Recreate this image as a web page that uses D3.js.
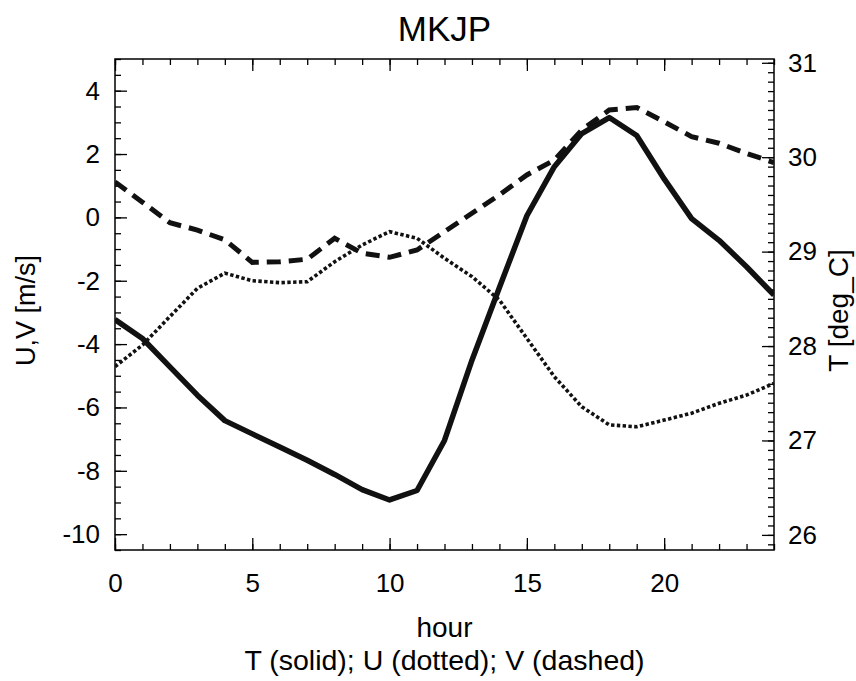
<!DOCTYPE html>
<html>
<head>
<meta charset="utf-8">
<script src="https://cdn.jsdelivr.net/npm/d3@7"></script>
<style>
  body { margin: 0; background: #fff; }
  text { font-family: "Liberation Sans", Arial, sans-serif; fill: #000; }
</style>
</head>
<body>
<div id="chart"></div>
<script>
// hourly values
const hours = [0, 1, 2, 3, 4, 5, 6, 7, 8, 9, 10, 11, 12, 13, 14, 15, 16, 17, 18, 19, 20, 21, 22, 23, 24]
const tempT = [28.28, 28.08, 27.78, 27.48, 27.21, 27.07, 26.93, 26.79, 26.64, 26.48, 26.37, 26.47, 27.00,
  27.85, 28.62, 29.38, 29.90, 30.25, 30.42, 30.23, 29.77, 29.35, 29.12, 28.84, 28.54]
const windU = [-4.71, -4.03, -3.13, -2.24, -1.76, -2.00, -2.06, -2.03, -1.40, -0.87, -0.45, -0.66, -1.29,
  -1.87, -2.61, -3.82, -5.03, -5.98, -6.55, -6.61, -6.40, -6.18, -5.87, -5.61, -5.24]
const windV = [1.12, 0.48, -0.17, -0.40, -0.71, -1.42, -1.40, -1.32, -0.66, -1.13, -1.26, -1.03, -0.45,
  0.13, 0.71, 1.34, 1.81, 2.76, 3.39, 3.47, 3.02, 2.55, 2.34, 2.02, 1.73]

const hourTicks = [0, 5, 10, 15, 20]
const uvTicks = [-10, -8, -6, -4, -2, 0, 2, 4]
const tTicks = [26, 27, 28, 29, 30, 31]

const width = 856
const height = 681
const margin = { left: 115, right: 82, top: 59, bottom: 131 }
const innerW = width - margin.left - margin.right
const innerH = height - margin.top - margin.bottom

const svg = d3.select('#chart').append('svg')
  .attr('width', width)
  .attr('height', height)

const x = d3.scaleLinear().domain([0, 24]).range([0, innerW])
const yUV = d3.scaleLinear().domain([-10.5, 5]).range([innerH, 0])
const yT = d3.scaleLinear().domain([25.84, 31.04]).range([innerH, 0])

const g = svg.append('g').attr('transform', `translate(${margin.left},${margin.top})`)

const noDomain = sel => sel.select('.domain').remove()
const tickStyle = sel => sel.selectAll('line').attr('stroke', '#000').attr('stroke-width', 1.3)
const plain = d => String(d) // hyphen minus, like the original

// bottom axis + mirrored top
g.append('g').attr('transform', `translate(0,${innerH})`)
  .call(d3.axisBottom(x).tickValues(d3.range(0, 25)).tickSize(-6).tickFormat(''))
  .call(noDomain).call(tickStyle)
g.append('g').attr('transform', `translate(0,${innerH})`)
  .call(d3.axisBottom(x).tickValues(hourTicks).tickSize(-12).tickPadding(24).tickFormat(plain))
  .call(noDomain).call(tickStyle)
  .selectAll('text').attr('font-size', 26)
g.append('g')
  .call(d3.axisTop(x).tickValues(d3.range(0, 25)).tickSize(-6).tickFormat(''))
  .call(noDomain).call(tickStyle)
g.append('g')
  .call(d3.axisTop(x).tickValues(hourTicks).tickSize(-12).tickFormat(''))
  .call(noDomain).call(tickStyle)

// left axis (U,V)
g.append('g')
  .call(d3.axisLeft(yUV).tickValues(d3.range(-10.5, 5.01, 0.5)).tickSize(-6).tickFormat(''))
  .call(noDomain).call(tickStyle)
g.append('g')
  .call(d3.axisLeft(yUV).tickValues(uvTicks).tickSize(-12).tickPadding(15).tickFormat(plain))
  .call(noDomain).call(tickStyle)
  .selectAll('text').attr('font-size', 26)

// right axis (T)
g.append('g').attr('transform', `translate(${innerW},0)`)
  .call(d3.axisRight(yT).tickValues(d3.range(259, 311).map(d => d / 10)).tickSize(-6).tickFormat(''))
  .call(noDomain).call(tickStyle)
g.append('g').attr('transform', `translate(${innerW},0)`)
  .call(d3.axisRight(yT).tickValues(tTicks).tickSize(-12).tickPadding(14).tickFormat(plain))
  .call(noDomain).call(tickStyle)
  .selectAll('text').attr('font-size', 26)

// frame
g.append('rect')
  .attr('width', innerW).attr('height', innerH)
  .attr('fill', 'none').attr('stroke', '#000').attr('stroke-width', 1.5)

// lines
svg.append('clipPath').attr('id', 'clip')
  .append('rect').attr('width', innerW).attr('height', innerH)
const plot = g.append('g').attr('clip-path', 'url(#clip)')

const lineT = d3.line().x((d, i) => x(hours[i])).y(d => yT(d))
const lineUV = d3.line().x((d, i) => x(hours[i])).y(d => yUV(d))

plot.append('path').datum(tempT)
  .attr('d', lineT).attr('fill', 'none').attr('stroke', '#111')
  .attr('stroke-width', 5.5).attr('stroke-linejoin', 'round')
plot.append('path').datum(windU)
  .attr('d', lineUV).attr('fill', 'none').attr('stroke', '#111')
  .attr('stroke-width', 3.6).attr('stroke-dasharray', '3.4,2.4')
plot.append('path').datum(windV)
  .attr('d', lineUV).attr('fill', 'none').attr('stroke', '#111')
  .attr('stroke-width', 5).attr('stroke-dasharray', '14,8')

// titles
svg.append('text')
  .attr('x', margin.left + innerW / 2).attr('y', 41)
  .attr('text-anchor', 'middle').attr('font-size', 35)
  .text('MKJP')
svg.append('text')
  .attr('x', margin.left + innerW / 2).attr('y', 637)
  .attr('text-anchor', 'middle').attr('font-size', 28)
  .text('hour')
svg.append('text')
  .attr('x', margin.left + innerW / 2).attr('y', 670)
  .attr('text-anchor', 'middle').attr('font-size', 28.5)
  .text('T (solid); U (dotted); V (dashed)')
svg.append('text')
  .attr('transform', `translate(35,${margin.top + innerH / 2 + 6}) rotate(-90)`)
  .attr('text-anchor', 'middle').attr('font-size', 27)
  .text('U,V [m/s]')
svg.append('text')
  .attr('transform', `translate(848,${margin.top + innerH / 2 + 6}) rotate(-90)`)
  .attr('text-anchor', 'middle').attr('font-size', 28)
  .text('T [deg_C]')
</script>
</body>
</html>
